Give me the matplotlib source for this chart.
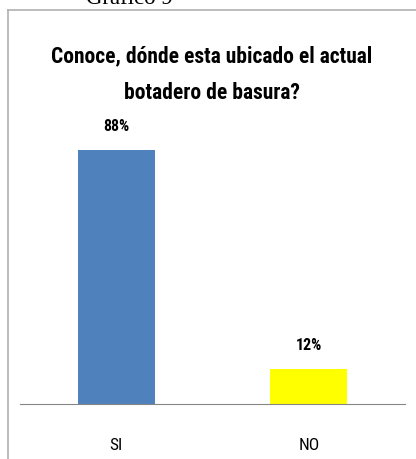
import matplotlib.pyplot as plt
from matplotlib.lines import Line2D

categorias = ['SI', 'NO']
porcentajes = [88, 12]
colores = ['#4F81BD', '#FFFF00']
titulo = 'Conoce, dónde esta ubicado el actual\nbotadero de basura?'

fuente = ['Roboto Condensed', 'Liberation Sans', 'DejaVu Sans']

fig = plt.figure(figsize=(4.16, 4.6), dpi=100)

# marco del grafico
fig.add_artist(Line2D([8/416, 8/416], [0, 1 - 11/460], color='#b0b0b0', lw=1.2))
fig.add_artist(Line2D([8/416, 1], [1 - 11/460, 1 - 11/460], color='#b0b0b0', lw=1.2))
fig.text(86/416, 1 - 4.5/460, 'Gráfico 9', family=['Liberation Serif', 'DejaVu Serif'],
         fontsize=16.5, va='baseline', ha='left')

ax = fig.add_axes([20/416, 1 - 405/460, 385/416, (405 - 116.4)/460])
x = range(len(categorias))
ax.bar(x, porcentajes, width=0.4, color=colores)
ax.set_xlim(-0.5, 1.5)
ax.set_ylim(0, 100)

for i, v in zip(x, porcentajes):
    ax.text(i, v + 6, f'{v}%', ha='center', va='bottom', fontsize=11.5,
            fontweight='bold', family=fuente)

ax.set_xticks(list(x))
ax.set_xticklabels(categorias, family=fuente, fontsize=12.5)
ax.tick_params(axis='x', length=0, pad=24)
ax.set_yticks([])
for lado in ['top', 'right', 'left']:
    ax.spines[lado].set_visible(False)
ax.spines['bottom'].set_color('#868686')

fig.text(212/416, 1 - 75/460, titulo, ha='center', va='center', fontsize=15.5,
         fontweight='bold', family=fuente, linespacing=1.85)

fig.savefig('out.png', dpi=100)
